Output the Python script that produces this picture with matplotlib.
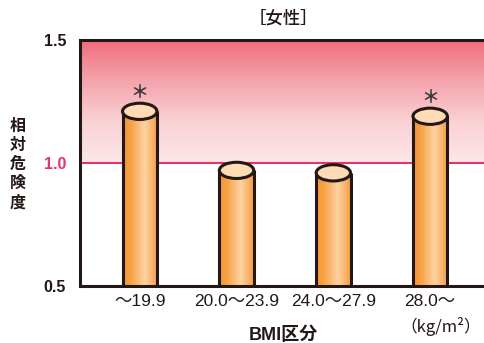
import numpy as np
import matplotlib
matplotlib.use("Agg")
import matplotlib.pyplot as plt
from matplotlib.patches import Ellipse
from matplotlib.colors import LinearSegmentedColormap

plt.rcParams['font.family'] = ['Liberation Sans', 'Noto Sans CJK JP', 'DejaVu Sans']

# Relative risk by BMI class (women)
categories = ["～19.9", "20.0～23.9", "24.0～27.9", "28.0～"]
risk = [1.21, 0.97, 0.96, 1.19]
significant = [True, False, False, True]
yticks = [0.5, 1.0, 1.5]
ytick_labels = ["0.5", "1.0", "1.5"]

INK = "#231815"
PINK = "#E8336A"

fig = plt.figure(figsize=(4.84, 3.43), dpi=100)
ax = fig.add_axes([80 / 484, (343 - 286) / 343, 1 - 80 / 484 + 0.01, (286 - 40) / 343])

x = np.arange(len(categories))
xlim = (-0.617, 3.606)
ylim = (0.5, 1.5)
ax.set_xlim(*xlim)
ax.set_ylim(*ylim)

# Pink gradient band above the reference line
band_cmap = LinearSegmentedColormap.from_list(
    "band", [(0.0, "#FCE7E8"), (0.35, "#FAD0D3"), (0.7, "#F49FA8"), (1.0, "#F06C7A")])
grad = np.linspace(0, 1, 256).reshape(-1, 1)
ax.imshow(grad, extent=[xlim[0], xlim[1], 1.0, 1.5], origin="lower",
          cmap=band_cmap, aspect="auto", zorder=0, interpolation="bilinear")

ax.axhline(1.0, color=PINK, lw=1.5, zorder=1)

# Cylinder bars
bar_w = 0.355
cap_h = 0.066
body_cmap = LinearSegmentedColormap.from_list(
    "body", [(0.0, "#F5932E"), (0.25, "#F8A44A"), (0.62, "#FDD3A2"), (0.85, "#F9B26A"), (1.0, "#F59A3C")])
hgrad = np.linspace(0, 1, 128).reshape(1, -1)
for xi, v, sig in zip(x, risk, significant):
    left, right = xi - bar_w / 2, xi + bar_w / 2
    ax.imshow(hgrad, extent=[left, right, ylim[0], v], origin="lower",
              cmap=body_cmap, aspect="auto", zorder=2, interpolation="bilinear")
    ax.plot([left, left], [ylim[0], v], color=INK, lw=2.2, zorder=3, solid_capstyle="butt")
    ax.plot([right, right], [ylim[0], v], color=INK, lw=2.2, zorder=3, solid_capstyle="butt")
    ax.add_patch(Ellipse((xi, v), bar_w, cap_h, facecolor="#FDDCB5",
                         edgecolor=INK, lw=2.2, zorder=4))
    if sig:
        ax.text(xi, v + 0.078, "＊", ha="center", va="center", fontsize=13,
                fontweight="bold", color="#3a3a3a", family=['Noto Sans CJK JP'], zorder=5)

# Frame
for side in ["left", "top", "bottom"]:
    ax.spines[side].set_color(INK)
    ax.spines[side].set_linewidth(2.2)
    ax.spines[side].set_zorder(6)
ax.spines["right"].set_visible(False)

ax.set_yticks(yticks)
ax.set_yticklabels(ytick_labels, fontsize=11.5, fontweight="bold", color=INK)
ax.get_yticklabels()[1].set_color(PINK)
ax.tick_params(axis="y", length=0, pad=10)

ax.set_xticks(x)
ax.set_xticklabels(categories, fontsize=12.5, color=INK)
ax.tick_params(axis="x", length=0, pad=6)

# Titles and labels
fig.text(283 / 484, 1 - 19 / 343, "［女性］", ha="center", va="center",
         fontsize=12.5, fontweight="medium", color=INK, family=['Noto Sans CJK JP'])
fig.text(283 / 484, 1 - 335 / 343, "BMI区分", ha="center", va="center",
         fontsize=13, fontweight="bold", color=INK)
fig.text(441 / 484, 1 - 326 / 343, "（kg/m²）", ha="center", va="center",
         fontsize=12, color=INK, family=['Noto Sans CJK JP'])
fig.text(18 / 484, 1 - 164 / 343, "\n".join("相対危険度"), ha="center", va="center",
         fontsize=11.5, fontweight="bold", color=INK, linespacing=1.25,
         family=['Noto Sans CJK JP'])

fig.savefig("out.png", dpi=100)
